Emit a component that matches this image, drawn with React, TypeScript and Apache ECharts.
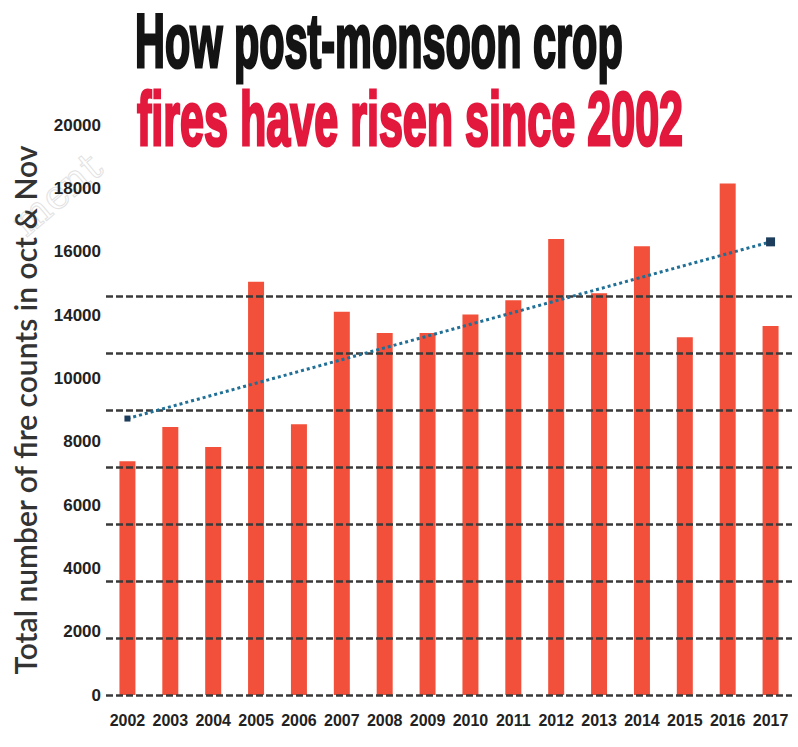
import React, { useEffect, useRef } from "react";
import * as echarts from "echarts";

const years = ["2002", "2003", "2004", "2005", "2006", "2007", "2008", "2009", "2010", "2011", "2012", "2013", "2014", "2015", "2016", "2017"];
const fireCounts = [8200, 9400, 8700, 14500, 9500, 13450, 12700, 12700, 13350, 13850, 16000, 14100, 15750, 12550, 17950, 12950];
const tickLabels = ["0", "2000", "4000", "6000", "8000", "10000", "14000", "16000", "18000", "20000"];
const gridValues = [0, 2000, 4000, 6000, 8000, 10000, 12000, 14000];
const trendYears = ["2002", "2017"];
const trendValues = [9700, 15900];
const titleLine1 = "How post-monsoon crop";
const titleLine2 = "fires have risen since 2002";
const yAxisTitle = "Total number of fire counts in oct & Nov";

function measure(text: string, font: string): number {
  const c = document.createElement("canvas").getContext("2d");
  if (!c) return text.length * 10;
  c.font = font;
  return c.measureText(text).width;
}

export default function App() {
  const ref = useRef<HTMLDivElement>(null);
  useEffect(() => {
    document.body.style.margin = "0";
    if (!ref.current) return;
    const chart = echarts.init(ref.current, undefined, { renderer: "svg" });

    const titleFont = '"Liberation Sans Narrow", "Liberation Sans", Arial, sans-serif';
    const t1w = measure(titleLine1, `bold 76px ${titleFont}`);
    const t2w = measure(titleLine2, `bold 76px ${titleFont}`);
    const s1 = 488 / t1w;
    const s2 = 546 / t2w;

    const axTitleFont = 'Lato, "DejaVu Sans", sans-serif';
    const aw = measure(yAxisTitle, `600 24px ${axTitleFont}`);
    const axSize = Math.max(18, Math.min(30, (24 * 612) / aw));

    const option: any = {
      animation: false,
      backgroundColor: "#ffffff",
      grid: { left: 106, right: 6, top: 125, bottom: 52, containLabel: false },
      xAxis: {
        type: "category",
        data: years,
        axisLine: { show: false },
        axisTick: { show: false },
        axisLabel: {
          interval: 0,
          margin: 17,
          fontSize: 16,
          fontWeight: "bold",
          fontFamily: titleFont,
          color: "#222",
        },
      },
      yAxis: [
        {
          type: "value",
          min: 0,
          max: 20000,
          interval: 2000,
          show: false,
          splitLine: { show: false },
        },
        {
          type: "category",
          position: "left",
          data: tickLabels,
          boundaryGap: false,
          axisLine: { show: false },
          axisTick: { show: false },
          splitLine: { show: false },
          axisLabel: {
            interval: 0,
            margin: 5,
            fontSize: 17,
            fontFamily: titleFont,
            fontWeight: "bold",
            color: "#222",
          },
          name: yAxisTitle,
          nameLocation: "middle",
          nameGap: 66,
          nameRotate: 90,
          nameTextStyle: {
            fontSize: axSize,
            fontFamily: axTitleFont,
            fontWeight: 600,
            color: "#333",
          },
        },
      ],
      series: [
        {
          type: "bar",
          data: fireCounts,
          yAxisIndex: 0,
          barWidth: 16,
          itemStyle: { color: "#f2503a" },
          z: 2,
          markLine: {
            silent: true,
            symbol: ["none", "none"],
            label: { show: false },
            lineStyle: { type: [7, 3], color: "#3a3a3a", width: 2.5 },
            data: gridValues.map((v) => ({ yAxis: v })),
            z: 3,
          },
        },
        {
          type: "line",
          yAxisIndex: 0,
          data: trendYears.map((y, i) => ({
            value: [y, trendValues[i]],
            symbolSize: i === 0 ? 6 : 9,
          })),
          symbol: "rect",
          lineStyle: { type: [3, 3], width: 3, color: "#1f6f96" },
          itemStyle: { color: "#1d3d5c" },
          z: 5,
        },
      ],
      graphic: [
        {
          type: "text",
          x: 4,
          y: 212,
          rotation: 0.7,
          silent: true,
          style: {
            text: "ment",
            fontSize: 40,
            fontFamily: "DejaVu Serif, serif",
            fill: "rgba(0,0,0,0)",
            stroke: "#e2e2e2",
            lineWidth: 1,
          },
          z: 0,
        },
        {
          type: "text",
          x: 135,
          y: 79,
          scaleX: s1,
          style: {
            text: titleLine1,
            fontSize: 76,
            fontWeight: "bold",
            fontFamily: titleFont,
            fill: "#141414",
            stroke: "#141414",
            lineWidth: 3,
            verticalAlign: "bottom",
          },
          z: 10,
        },
        {
          type: "text",
          x: 137,
          y: 157,
          scaleX: s2,
          style: {
            text: titleLine2,
            fontSize: 76,
            fontWeight: "bold",
            fontFamily: titleFont,
            fill: "#e3183d",
            stroke: "#e3183d",
            lineWidth: 3,
            verticalAlign: "bottom",
          },
          z: 10,
        },
      ],
    };
    chart.setOption(option);
    return () => chart.dispose();
  }, []);
  return <div ref={ref} style={{ width: 798, height: 747 }} />;
}
